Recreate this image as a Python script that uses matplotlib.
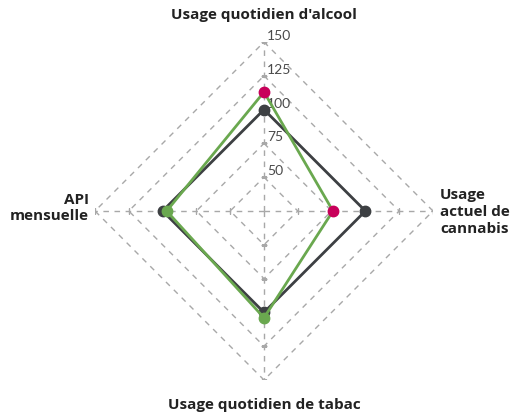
import numpy as np
import matplotlib
matplotlib.use("Agg")
import matplotlib.pyplot as plt

categories = ["Usage quotidien d'alcool", "Usage\nactuel de\ncannabis",
              "Usage quotidien de tabac", "API\nmensuelle"]
reference = [100, 100, 100, 100]
region = [113, 76, 104, 97]
region_highlight = [True, True, False, False]
ring_values = [50, 75, 100, 125, 150]
r_min, r_max = 25, 150

DARK = "#3d4043"
GREEN = "#6aa84f"
PINK = "#c8005a"
GRID = "#a8a8a8"

W, H = 513, 418
fig = plt.figure(figsize=(W / 100, H / 100), dpi=100)
cx, cy, R = 264, 211, 169
ax = fig.add_axes([(cx - R) / W, (H - cy - R) / H, 2 * R / W, 2 * R / H], polar=True)
ax.set_theta_zero_location('N')
ax.set_theta_direction(-1)
ax.set_ylim(r_min, r_max)
ax.grid(False)
ax.spines['polar'].set_visible(False)
ax.set_xticks([])
ax.set_yticks([])
ax.patch.set_alpha(0)

n = len(categories)
theta = np.arange(n) * 2 * np.pi / n
theta_c = np.append(theta, theta[0])

# polygon grid
for v in ring_values:
    ax.plot(theta_c, [v] * (n + 1), color=GRID, lw=1, ls=(0, (4, 4)), zorder=1)
for t in theta:
    ax.plot([t, t], [r_min, r_max], color=GRID, lw=1, ls=(0, (4, 4)), zorder=1)
    mk = '_' if np.isclose(np.cos(t) ** 2, 1) else '|'
    ax.plot([t] * len(ring_values), ring_values, ls='none', marker=mk,
            ms=4, mew=1, color=GRID, zorder=1)

# tick labels
for v in ring_values:
    ax.annotate(str(v), xy=(0, v), xytext=(3, 6), textcoords='offset pixels',
                ha='left', va='center', fontsize=10, color="#4a4a4a",
                family='Lato', zorder=5)

# series
ref_c = np.append(reference, reference[0])
reg_c = np.append(region, region[0])
ax.plot(theta_c, ref_c, color=DARK, lw=2, zorder=3, clip_on=False)
ax.plot(theta, reference, ls='none', marker='o', ms=7.5, color=DARK, zorder=4, clip_on=False)
ax.plot(theta_c, reg_c, color=GREEN, lw=2, zorder=5, clip_on=False)
for t, v, h in zip(theta, region, region_highlight):
    ax.plot([t], [v], ls='none', marker='o', ms=7.5, color=PINK if h else GREEN,
            zorder=6, clip_on=False)

# category labels
fp = dict(fontsize=11, fontweight='bold', color="#222222", family='Open Sans',
          linespacing=1.25)
fig.text(cx / W, 1 - 15 / H, categories[0], ha='center', va='center', **fp)
fig.text(440 / W, 1 - 212 / H, categories[1], ha='left', va='center', **fp)
fig.text(cx / W, 1 - 405 / H, categories[2], ha='center', va='center', **fp)
fig.text(89 / W, 1 - 208 / H, categories[3], ha='right', va='center', multialignment='right', **fp)

fig.savefig("out.png", dpi=100)
